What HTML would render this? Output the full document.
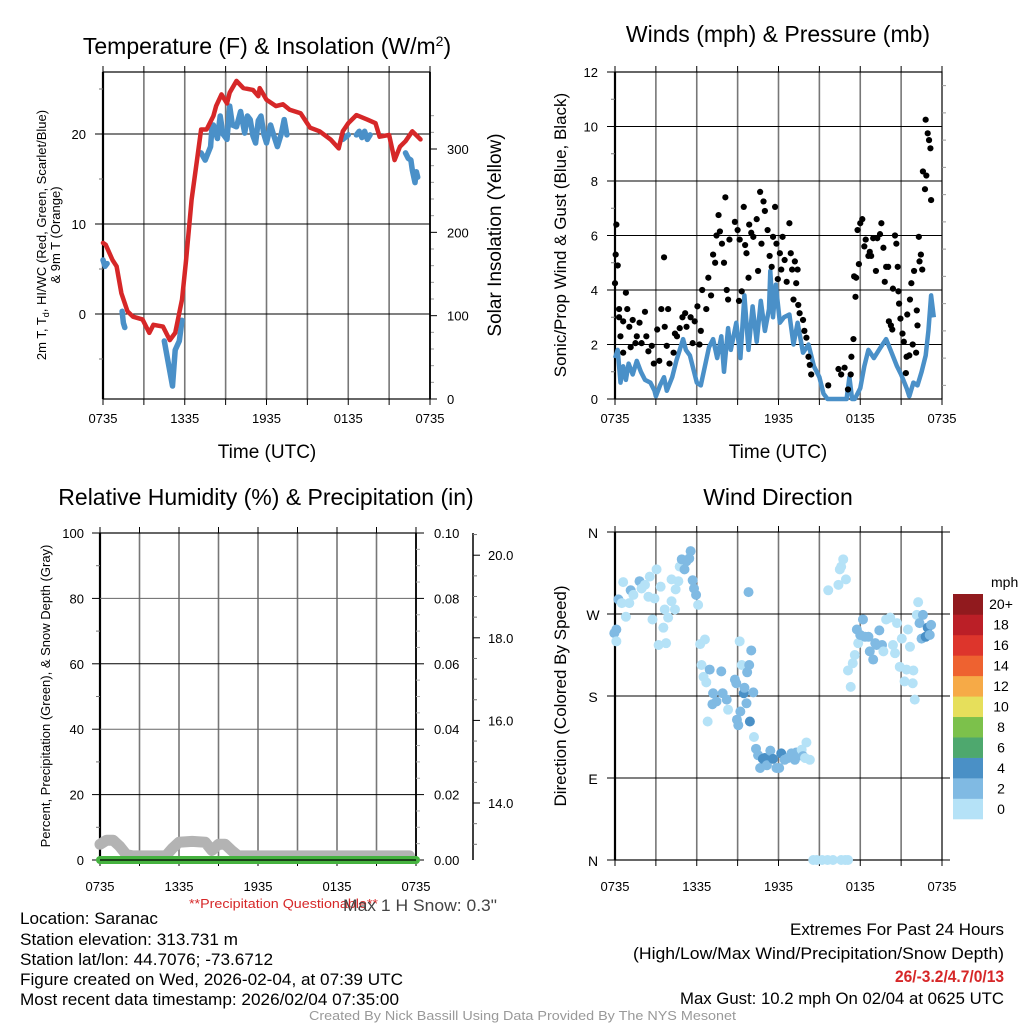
<!DOCTYPE html>
<html><head><meta charset="utf-8"><style>
html,body{margin:0;padding:0;background:#fff;width:1024px;height:1024px;overflow:hidden}
svg{display:block;font-family:"Liberation Sans",sans-serif}
</style></head><body>
<svg id="c" width="1024" height="1024" viewBox="0 0 1024 1024">
<g id="static">
<text x="267" y="54" font-size="23" text-anchor="middle">Temperature (F) &amp; Insolation (W/m<tspan dy="-8" font-size="14">2</tspan><tspan dy="8">)</tspan></text>
<text x="778" y="42" font-size="23" text-anchor="middle">Winds (mph) &amp; Pressure (mb)</text>
<text x="266" y="505" font-size="23" text-anchor="middle">Relative Humidity (%) &amp; Precipitation (in)</text>
<text x="778" y="505" font-size="23" text-anchor="middle">Wind Direction</text>
<text x="267" y="458" font-size="19" text-anchor="middle">Time (UTC)</text>
<text x="778" y="458" font-size="19" text-anchor="middle">Time (UTC)</text>
<text transform="translate(46,235) rotate(-90)" font-size="13" text-anchor="middle">2m T, T<tspan dy="3" font-size="9">d</tspan><tspan dy="-3">, HI/WC (Red, Green, Scarlet/Blue)</tspan></text>
<text transform="translate(60,235) rotate(-90)" font-size="13" text-anchor="middle">&amp; 9m T (Orange)</text>
<text transform="translate(501,235) rotate(-90)" font-size="19" text-anchor="middle">Solar Insolation (Yellow)</text>
<text transform="translate(566,235) rotate(-90)" font-size="17" text-anchor="middle">Sonic/Prop Wind &amp; Gust (Blue, Black)</text>
<text transform="translate(50,696) rotate(-90)" font-size="13" text-anchor="middle">Percent, Precipitation (Green), &amp; Snow Depth (Gray)</text>
<text transform="translate(566,696) rotate(-90)" font-size="17" text-anchor="middle">Direction (Colored By Speed)</text>
<text x="189" y="908" font-size="13" fill="#d62728" textLength="189" lengthAdjust="spacingAndGlyphs">**Precipitation Questionable**</text>
<text x="343" y="911" font-size="17" fill="#444" textLength="154" lengthAdjust="spacingAndGlyphs">Max 1 H Snow: 0.3"</text>
<g font-size="17">
<text x="20" y="924" textLength="138" lengthAdjust="spacingAndGlyphs">Location: Saranac</text>
<text x="20" y="945" textLength="218" lengthAdjust="spacingAndGlyphs">Station elevation: 313.731 m</text>
<text x="20" y="965" textLength="253" lengthAdjust="spacingAndGlyphs">Station lat/lon: 44.7076; -73.6712</text>
<text x="20" y="985" textLength="383" lengthAdjust="spacingAndGlyphs">Figure created on Wed, 2026-02-04, at 07:39 UTC</text>
<text x="20" y="1005" textLength="379" lengthAdjust="spacingAndGlyphs">Most recent data timestamp: 2026/02/04 07:35:00</text>
</g>
<g font-size="17">
<text x="790" y="935" textLength="214" lengthAdjust="spacingAndGlyphs">Extremes For Past 24 Hours</text>
<text x="633" y="959" textLength="371" lengthAdjust="spacingAndGlyphs">(High/Low/Max Wind/Precipitation/Snow Depth)</text>
<text x="895" y="982" fill="#d62728" font-weight="bold" textLength="109" lengthAdjust="spacingAndGlyphs">26/-3.2/4.7/0/13</text>
<text x="680" y="1004" textLength="324" lengthAdjust="spacingAndGlyphs">Max Gust: 10.2 mph On 02/04 at 0625 UTC</text>
</g>
<text x="309" y="1020" font-size="13" fill="#999" textLength="427" lengthAdjust="spacingAndGlyphs">Created By Nick Bassill Using Data Provided By The NYS Mesonet</text>
<text x="991" y="587" font-size="14">mph</text>
</g>
<g id="dyn"></g>
</svg>
<script>
// ---------- Temperature panel data ----------
const tempHours=[0,0.2,0.7,1.0,1.35,1.8,2.2,2.9,3.4,3.7,4.4,4.9,5.3,5.8,6.1,6.5,6.9,7.2,7.6,8.1,8.3,8.7,9.1,9.3,9.8,10.3,11,11.4,11.5,12,12.7,13.2,13.7,14.5,15.2,15.9,16.7,17.3,17.6,18,18.6,19.4,20,20.3,21,21.4,21.8,22.2,22.7,23.3];
const tempVals=[7.9,7.7,6.0,5.3,2.3,0.3,-0.3,-0.6,-2.1,-1.2,-1.4,-2.9,-2.1,1.6,6.0,12.7,17.1,20.5,20.5,22.0,23.1,24.4,23.4,24.6,25.9,25.1,24.9,24.2,25.1,23.8,23.1,23.3,22.7,22.3,20.7,20.3,19.4,18.4,20.3,21.2,22.1,21.6,21.2,19.7,19.9,17.1,18.6,19.2,20.3,19.4];
const dewHours=[0,0.15,0.3,null,1.4,1.5,1.6,null,4.5,4.8,5.1,5.3,5.6,5.8,null,7.2,7.5,7.9,8.0,8.1,8.4,8.6,8.8,9.1,9.3,9.5,9.8,10.1,10.4,10.6,10.8,11.0,11.2,11.4,11.6,11.8,12.0,12.3,12.5,12.8,13.1,13.3,13.5,null,17.6,18.0,null,18.6,18.8,19.0,19.2,19.4,19.6,null,22.2,22.4,22.6,22.7,22.9,23.0,23.1];
const dewVals=[6,5.3,5.6,null,0.3,-1,-1.5,null,-3,-5.5,-8,-4,-3,-0.7,null,17.9,17.1,18.6,20.8,21,19.5,22,20,19.4,23.1,21,20.8,22.5,20.1,22,21.6,19.8,19,21.5,22,20,19,21,20,18.6,20.1,21.6,19.9,null,19.4,19.9,null,19.9,20.3,19.6,20.3,19.4,19.9,null,17.9,17.3,17.1,16,14.6,15.8,15.2];
const tempTicks=[0,10,20];
const insolTicks=[0,100,200,300];
const timeLabels=["0735","1335","1935","0135","0735"];
// ---------- Wind panel data ----------
const windHours=[0,0.2,0.4,0.6,0.8,1,1.3,1.6,1.9,2.2,2.6,2.9,3.0,3.3,3.6,3.8,4.2,4.5,5.0,5.2,5.5,6.0,6.3,6.6,6.9,7.2,7.5,7.8,8.0,8.3,8.5,8.9,9.2,9.5,9.8,10.1,10.4,10.7,11,11.3,11.4,11.6,11.8,12.1,12.4,12.8,13.1,13.4,13.8,14.2,14.6,15.0,15.3,15.6,16.5,17.0,17.2,17.4,17.6,18.0,18.3,18.6,19,19.5,19.9,20.3,20.7,21,21.4,21.6,21.9,22.2,22.5,22.8,23,23.2,23.4];
const windVals=[1.5,1.8,0.6,1.2,0.7,1.3,0.9,1.4,1.0,0.7,0.6,0.3,0.1,0.5,0.8,0.3,0.8,1.4,2.2,1.8,1.6,0.6,0.5,1.2,1.9,2.2,1.5,2.3,1.0,2.6,1.8,2.8,1.5,3.8,1.8,3.4,2.1,3.6,2.5,3.3,4.7,3.0,4.2,2.8,3.0,3.1,2.0,2.8,1.7,2.0,1.2,0.8,0.2,0,0,0,0.8,0,0,0.4,1.2,1.8,1.5,1.9,2.2,1.7,1.2,0.9,0.4,0.1,0.6,0.5,1.0,1.6,2.5,3.8,3.0];
const gustHours=[0,0.05,0.1,0.2,0.3,0.3,0.4,0.6,0.6,0.8,0.9,1.05,1.15,1.3,1.5,1.6,1.8,1.95,2.2,2.3,2.45,2.7,2.85,3.1,3.25,3.4,3.6,3.65,3.8,3.9,4.0,4.3,4.4,4.55,4.75,4.95,5.15,5.25,5.55,5.7,5.85,6.05,6.2,6.3,6.4,6.7,6.85,7.05,7.2,7.35,7.45,7.6,7.7,7.85,8.0,8.1,8.2,8.3,8.4,8.8,9.0,9.1,9.15,9.3,9.45,9.55,9.65,9.8,9.85,10.0,10.15,10.4,10.5,10.65,10.75,10.9,11.0,11.2,11.35,11.5,11.6,11.75,11.85,11.95,12.1,12.2,12.3,12.45,12.6,12.8,12.9,13.0,13.2,13.3,13.4,13.1,13.45,13.55,13.8,13.9,14.05,14.2,14.3,14.4,15.65,16.4,16.6,16.85,17.1,17.3,17.35,17.5,17.55,17.7,17.65,17.8,17.9,18.0,18.15,18.3,18.4,18.6,18.7,18.8,18.95,19.15,19.25,19.45,19.55,19.7,19.8,19.9,20.05,20.1,20.25,20.35,20.4,20.55,20.65,20.75,20.8,20.85,20.95,21.1,21.2,21.35,21.4,21.45,21.6,21.65,21.75,21.85,21.95,22.1,22.15,22.2,22.3,22.35,22.45,22.55,22.6,22.75,22.85,22.8,22.95,23.05,23.15,23.2];
const gustVals=[4.25,5.3,6.4,4.9,3.3,3.0,2.3,2.85,1.7,3.9,3.3,2.65,1.9,2.9,2.05,2.3,2.8,2.05,3.2,2.3,1.75,1.95,1.3,2.55,1.4,3.3,5.2,2.65,1.95,3.3,1.3,1.7,2.4,2.3,2.6,3.0,3.15,2.65,3.0,2.05,2.85,3.4,2.0,2.5,4.0,3.3,4.45,3.8,5.3,5.0,6.0,6.75,6.15,5.7,5.0,7.4,4.0,3.65,5.85,6.5,6.2,3.6,5.85,3.95,7.05,5.65,5.35,4.45,6.4,6.1,5.95,6.6,4.7,7.6,5.7,7.25,6.9,6.2,5.25,4.85,5.95,7.05,5.7,4.4,5.35,4.75,5.95,5.1,4.3,6.45,5.35,4.75,5.05,4.25,4.75,3.65,3.45,3.15,2.9,2.5,2.25,1.55,1.25,0.9,0.5,1.1,0.9,1.15,0.35,0.9,1.55,2.2,4.5,4.45,3.75,6.2,4.95,6.45,6.6,5.6,5.85,5.25,5.4,5.25,5.9,4.7,5.9,6.05,6.45,5.55,4.3,4.85,4.85,2.85,2.7,2.55,4.05,6.0,5.7,4.85,3.95,3.5,2.95,2.4,2.1,0.95,1.55,3.1,1.6,3.65,4.25,2.0,4.7,1.7,3.25,2.7,5.95,5.05,5.3,4.75,8.35,7.7,8.2,10.25,9.75,9.5,9.2,7.3];
const windTicks=[0,2,4,6,8,10,12];
// ---------- RH / precip / snow panel data ----------
const snowHours=[0,0.5,1.0,1.5,2.0,2.5,3.0,4.0,5.0,5.5,6.0,7.0,8.0,8.5,9.0,9.5,10.0,10.5,11.0,12.0,14,16,18,20,22,23.5];
const snowVals=[13.0,13.1,13.1,12.95,12.75,12.72,12.72,12.72,12.72,12.9,13.05,13.07,13.05,12.85,13.0,13.0,12.85,12.72,12.72,12.72,12.72,12.72,12.72,12.72,12.72,12.72];
const precipHours=[0,24];
const precipVals=[0,0];
const rhTicks=[0,20,40,60,80,100];
const precipTicks=["0.00","0.02","0.04","0.06","0.08","0.10"];
const snowTicks=[14,16,18,20];
// ---------- Wind direction panel data ----------
const dirHours=[-0.05,0.1,0.1,0.25,0.5,0.6,0.8,1.05,1.15,1.35,1.8,1.95,2.2,2.45,2.55,2.75,2.9,3.05,3.2,3.35,3.55,3.65,3.75,3.9,4.15,4.15,4.4,4.45,4.65,4.75,4.9,5.1,5.25,5.55,5.45,5.7,5.8,5.95,6.1,6.25,6.35,6.6,6.5,6.7,6.95,7.2,7.45,7.15,7.8,7.9,8.2,8.3,6.8,8.8,8.9,8.95,9.05,9.15,9.3,9.2,9.45,9.5,9.65,9.7,9.85,9.8,10.0,9.9,10.15,10.2,10.35,10.5,10.65,10.85,11.0,11.15,11.4,11.6,11.85,12.05,12.2,12.45,12.7,12.95,13.2,13.3,13.55,13.7,13.8,13.95,14.05,14.3,14.55,14.8,15.2,15.6,16.0,16.6,16.9,17.1,15.65,16.4,16.5,16.6,16.75,16.95,17.1,17.3,17.45,17.6,17.75,17.85,18.0,18.2,18.35,18.6,18.7,18.95,19.1,19.2,19.4,19.6,19.7,19.9,20.2,20.4,20.55,20.7,20.9,21.05,21.25,21.4,21.5,21.65,21.85,21.9,22.0,22.15,22.25,22.35,22.5,22.6,22.8,22.95,23.1,23.2];
const dirVals=[249,253,240,286,282,305,267,282,296,291,306,298,302,289,311,264,287,319,236,300,255,275,238,266,308,284,275,297,306,322,330,319,328,339,331,307,298,291,280,237,214,242,201,195,209,183,174,171,207,183,176,165,152,198,194,154,148,240,214,163,183,189,172,206,214,294,230,152,184,135,122,115,101,111,112,104,120,111,101,101,117,110,112,117,110,118,115,121,114,112,129,110,0,0,0,0,0,0,0,0,296,302,319,322,330,308,208,190,216,225,253,238,247,264,245,245,229,220,238,236,252,236,229,264,266,236,227,260,212,243,196,209,253,234,194,208,176,269,283,260,243,269,245,255,247,258];
const dirSpeeds=[2,2,0,2,0,0,0,0,2,0,2,0,0,0,0,0,0,0,0,0,0,0,0,0,0,0,0,0,0,0,2,2,2,2,2,2,2,2,0,0,0,0,0,0,2,2,2,2,2,2,2,0,0,2,2,2,2,0,0,2,4,2,2,2,2,2,2,4,2,0,2,2,2,4,4,2,2,4,2,2,4,2,2,2,2,2,2,0,2,0,0,0,0,0,0,0,0,0,0,0,0,0,0,0,0,0,0,0,0,0,2,0,2,2,2,2,2,2,2,2,2,2,0,0,0,0,0,0,0,0,0,0,0,0,0,0,0,0,0,2,2,2,4,4,2,2];
const cbarLabels=["0","2","4","6","8","10","12","14","16","18","20+"];
const cbarColors=["#b5e2f7","#80bae3","#4a90c6","#4ea86e","#7cc14b","#e6df5b","#f6aa47","#ee6230","#dd352c","#bb1f27","#911a1e"];

const NS="http://www.w3.org/2000/svg";
const root=document.getElementById('dyn');
function mk(tag,attrs,parent){const e=document.createElementNS(NS,tag);for(const k in attrs)e.setAttribute(k,attrs[k]);(parent||root).appendChild(e);return e;}
function txt(x,y,s,size,anchor,parent){const t=mk('text',{x:x,y:y,'font-size':size,'text-anchor':anchor||'middle'},parent);t.textContent=s;return t;}
function pathFrom(xs,ys,sx,sy){let d='',pen=false;for(let i=0;i<xs.length;i++){if(xs[i]===null||ys[i]===null){pen=false;continue;}d+=(pen?'L':'M')+sx(xs[i]).toFixed(1)+','+sy(ys[i]).toFixed(1);pen=true;}return d;}

function frame(g,L,R,T,B,vgridN){
  for(let i=1;i<vgridN;i++){const x=L+(R-L)*i/vgridN;const l=mk('line',{x1:x,x2:x,y1:T,y2:B,stroke:'#777','stroke-width':1.6},g);
  
  }
  for(let i=0;i<=vgridN;i++){const x=L+(R-L)*i/vgridN;mk('line',{x1:x,x2:x,y1:T-6,y2:T,stroke:'#000','stroke-width':1},g);mk('line',{x1:x,x2:x,y1:B,y2:B+6,stroke:'#000','stroke-width':1},g);}
  const r=mk('rect',{x:L,y:T,width:R-L,height:B-T,fill:'none',stroke:'#000','stroke-width':1.2},g);
  
  
  mk('line',{x1:L,x2:L,y1:T,y2:B,stroke:'#000','stroke-width':2.2},g);
}
function xlabels(g,L,R,y){for(let i=0;i<timeLabels.length;i++){const t=txt(L+(R-L)*i/4,y,timeLabels[i],13,'middle',g);
  
  }}

// ===== Panel 1: Temperature =====
(function(){
  const L=103,R=430,T=72,B=399;
  const g=mk('g',{});
  
  
  const sx=h=>L+(R-L)*h/24, sy=v=>314-(v)*9.0, sI=v=>399-v*0.8333;
  frame(g,L,R,T,B,8);
  for(const v of tempTicks){const y=sy(v);mk('line',{x1:L,x2:R,y1:y,y2:y,stroke:'#000','stroke-width':1},g);mk('line',{x1:L-8,x2:L,y1:y,y2:y,stroke:'#000'},g);
    const t=txt(L-17,y+5,String(v),13,'end',g);
    
    }
  for(let v=-5;v<=25;v+=10){mk('line',{x1:L-4,x2:L,y1:sy(v),y2:sy(v),stroke:'#777'},g);}
  for(let v=0;v<=340;v+=20){const y=sI(v);if(y<T)continue;const maj=v%100===0;mk('line',{x1:R,x2:R+(maj?7:4),y1:y,y2:y,stroke:maj?'#000':'#999'},g);}
  for(const v of insolTicks){const t=txt(R+17,sI(v)+5,String(v),13,'start',g);
    
    }
  mk('line',{x1:R,x2:R,y1:T,y2:B,stroke:'#000','stroke-width':1.8},g);
  const dew=mk('path',{d:pathFrom(dewHours,dewVals,sx,sy),fill:'none',stroke:'#4a90c8','stroke-width':5.5,'stroke-linecap':'round','stroke-linejoin':'round'},g);
  
  
  const tl=mk('path',{d:pathFrom(tempHours,tempVals,sx,sy),fill:'none',stroke:'#d62728','stroke-width':4.5,'stroke-linecap':'round','stroke-linejoin':'round'},g);
  
  
  xlabels(g,L,R,423);
})();

// ===== Panel 2: Winds =====
(function(){
  const L=615,R=942,T=72,B=399;
  const g=mk('g',{});
  
  
  const sx=h=>L+(R-L)*h/24, sy=v=>B-v*(B-T)/12;
  frame(g,L,R,T,B,8);
  for(const v of windTicks){const y=sy(v);mk('line',{x1:L,x2:R,y1:y,y2:y,stroke:'#000','stroke-width':1},g);mk('line',{x1:L-8,x2:L,y1:y,y2:y,stroke:'#000'},g);
    const t=txt(L-17,y+5,String(v),13,'end',g);
    
    }
  for(let v=1;v<12;v+=2){mk('line',{x1:L-4,x2:L,y1:sy(v),y2:sy(v),stroke:'#777'},g);}
  for(let v=0.5;v<12;v+=1){mk('line',{x1:R,x2:R+4,y1:sy(v),y2:sy(v),stroke:'#999'},g);}
  const wl=mk('path',{d:pathFrom(windHours,windVals,sx,sy),fill:'none',stroke:'#4a90c8','stroke-width':4.5,'stroke-linejoin':'round'},g);
  
  
  for(let i=0;i<gustHours.length;i++){const c=mk('circle',{cx:sx(gustHours[i]),cy:sy(gustVals[i]),r:3.1,fill:'#000'},g);
    
    }
  xlabels(g,L,R,423);
})();

// ===== Panel 3: RH / precip =====
(function(){
  const L=100,R=416,T=533,B=860;
  const g=mk('g',{});
  
  
  const sx=h=>L+(R-L)*h/24, sy=v=>B-v*(B-T)/100, sS=d=>B-(d-12.62)*41.3, sP=p=>B-p*(B-T)/0.1;
  frame(g,L,R,T,B,8);
  for(const v of rhTicks){const y=sy(v);mk('line',{x1:L,x2:R,y1:y,y2:y,stroke:v===100||v===0?'#000':(v%40===0?'#666':'#000'),'stroke-width':1},g);mk('line',{x1:L-8,x2:L,y1:y,y2:y,stroke:'#000'},g);
    const t=txt(L-16,y+5,String(v),13,'end',g);
    
    }
  for(let v=10;v<100;v+=20){mk('line',{x1:L-4,x2:L,y1:sy(v),y2:sy(v),stroke:'#777'},g);}
  mk('line',{x1:R,x2:R,y1:T,y2:B,stroke:'#000','stroke-width':1.8},g);
  for(let i=0;i<precipTicks.length;i++){const y=sP(i*0.02);mk('line',{x1:R,x2:R+8,y1:y,y2:y,stroke:'#000'},g);
    const t=txt(R+18,y+5,precipTicks[i],13,'start',g);
    
    }
  for(let v=0.005;v<0.1;v+=0.005){if(Math.round(v*1000)%20===0)continue;mk('line',{x1:R,x2:R+4,y1:sP(v),y2:sP(v),stroke:'#aaa'},g);}
  mk('line',{x1:473,x2:473,y1:T,y2:B,stroke:'#000','stroke-width':1.5},g);
  for(const d of snowTicks){const y=sS(d);mk('line',{x1:473,x2:480,y1:y,y2:y,stroke:'#000'},g);
    const t=txt(488,y+5,d.toFixed(1),13,'start',g);
    
    }
  for(let d=13;d<=20.5;d+=0.5){if(d%2===0)continue;mk('line',{x1:473,x2:477,y1:sS(d),y2:sS(d),stroke:'#777'},g);}
  const sl=mk('path',{d:pathFrom(snowHours,snowVals,sx,sS),fill:'none',stroke:'#b3b3b3','stroke-width':11,'stroke-linecap':'round','stroke-linejoin':'round'},g);
  
  
  const pl=mk('path',{d:pathFrom(precipHours,precipVals,sx,sP),fill:'none',stroke:'#45b23f','stroke-width':8,'stroke-linecap':'round'},g);
  
  
  mk('line',{x1:L,x2:R,y1:B,y2:B,stroke:'#000','stroke-width':1.2},g);
  xlabels(g,L,R,891);
})();

// ===== Panel 4: Wind direction =====
(function(){
  const L=615,R=942,T=532,B=860;
  const g=mk('g',{});
  
  
  const sx=h=>L+(R-L)*h/24, sy=d=>B-d*(B-T)/360;
  frame(g,L,R,T,B,8);
  const labs=["N","E","S","W","N"];
  for(let i=0;i<5;i++){const y=sy(i*90);mk('line',{x1:L-8,x2:R+8,y1:y,y2:y,stroke:'#000','stroke-width':1},g);
    const t=txt(L-22,y+6,labs[i],14,'middle',g);
    
    }
  const col=s=>cbarColors[Math.min(10,Math.round(s/2))];
  for(let i=0;i<dirHours.length;i++){const c=mk('circle',{cx:sx(dirHours[i]),cy:sy(dirVals[i]),r:5,fill:col(dirSpeeds[i])},g);
    
    }
  xlabels(g,L,R,891);
  const cb=mk('g',{},g);
  
  
  const top=594,bot=819,h=(bot-top)/11;
  for(let i=0;i<11;i++){const y=bot-(i+1)*h;const r=mk('rect',{x:953,y:y,width:30,height:h+0.3,fill:cbarColors[i]},cb);
    
    
    const t=txt(1001,y+h/2+5,cbarLabels[i],14,'middle',cb);
    
    }
})();
</script>
</body></html>
